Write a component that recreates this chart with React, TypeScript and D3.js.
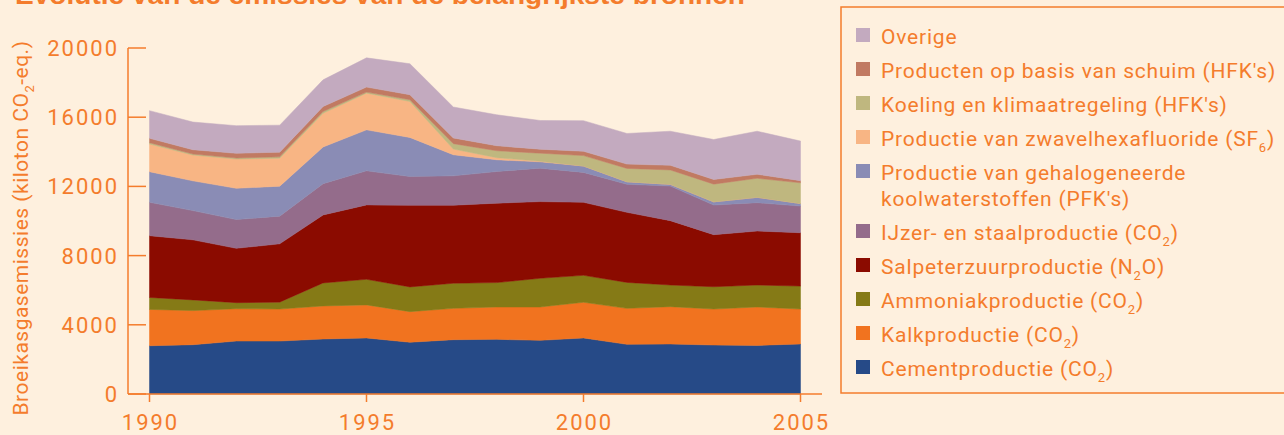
import React from "react";
import * as d3 from "d3";

const years = [1990, 1991, 1992, 1993, 1994, 1995, 1996, 1997, 1998, 1999, 2000, 2001, 2002, 2003, 2004, 2005];
const cement = [2790, 2850, 3060, 3060, 3180, 3240, 2990, 3140, 3160, 3100, 3240, 2870, 2890, 2830, 2810, 2890];
const kalk = [2100, 1970, 1870, 1850, 1910, 1910, 1770, 1810, 1870, 1930, 2060, 2080, 2160, 2080, 2220, 2020];
const ammoniak = [690, 620, 350, 400, 1330, 1480, 1430, 1450, 1410, 1660, 1560, 1500, 1250, 1290, 1270, 1330];
const salpeter = [3570, 3470, 3140, 3370, 3930, 4300, 4720, 4510, 4590, 4430, 4220, 4050, 3720, 3010, 3120, 3080];
const ijzer = [1930, 1690, 1660, 1600, 1810, 1970, 1660, 1700, 1830, 1930, 1730, 1620, 2000, 1710, 1640, 1540];
const pfk = [1770, 1720, 1810, 1730, 2120, 2370, 2260, 1220, 680, 370, 370, 150, 100, 190, 310, 150];
const sf6 = [1600, 1490, 1690, 1620, 1950, 2120, 2080, 330, 120, 40, 0, 0, 0, 0, 0, 0];
const koeling = [80, 60, 60, 80, 100, 60, 100, 310, 400, 460, 600, 770, 830, 1020, 1100, 1200];
const schuim = [250, 250, 270, 270, 290, 290, 290, 330, 290, 230, 250, 250, 270, 270, 230, 120];
const overige = [1600, 1600, 1600, 1560, 1540, 1690, 1790, 1790, 1790, 1660, 1770, 1770, 1970, 2310, 2490, 2290];

const yTicks = [0, 4000, 8000, 12000, 16000, 20000];
const xTicks = [1990, 1995, 2000, 2005];

const title = "Evolutie van de emissies van de belangrijkste bronnen";

// bottom to top
const seriesKeys = ["cement", "kalk", "ammoniak", "salpeter", "ijzer", "pfk", "sf6", "koeling", "schuim", "overige"];
const seriesValues: Record<string, number[]> = { cement, kalk, ammoniak, salpeter, ijzer, pfk, sf6, koeling, schuim, overige };
const seriesColors: Record<string, string> = {
  cement: "#264a87",
  kalk: "#f1731f",
  ammoniak: "#857a16",
  salpeter: "#8b0b00",
  ijzer: "#946c8b",
  pfk: "#8a8cb5",
  sf6: "#f8b584",
  koeling: "#bfb77f",
  schuim: "#c17a62",
  overige: "#c3aabf",
};

type Part = [string, boolean];
const legendItems: { key: string; lines: Part[][] }[] = [
  { key: "overige", lines: [[["Overige", false]]] },
  { key: "schuim", lines: [[["Producten op basis van schuim (HFK's)", false]]] },
  { key: "koeling", lines: [[["Koeling en klimaatregeling (HFK's)", false]]] },
  { key: "sf6", lines: [[["Productie van zwavelhexafluoride (SF", false], ["6", true], [")", false]]] },
  { key: "pfk", lines: [[["Productie van gehalogeneerde", false]], [["koolwaterstoffen (PFK's)", false]]] },
  { key: "ijzer", lines: [[["IJzer- en staalproductie (CO", false], ["2", true], [")", false]]] },
  { key: "salpeter", lines: [[["Salpeterzuurproductie (N", false], ["2", true], ["O)", false]]] },
  { key: "ammoniak", lines: [[["Ammoniakproductie (CO", false], ["2", true], [")", false]]] },
  { key: "kalk", lines: [[["Kalkproductie (CO", false], ["2", true], [")", false]]] },
  { key: "cement", lines: [[["Cementproductie (CO", false], ["2", true], [")", false]]] },
];

const ORANGE = "#f47c2c";
const BG = "#fef0de";
const FONT = "Roboto, 'Noto Sans', sans-serif";

function renderParts(parts: Part[], size: number) {
  const out: React.ReactNode[] = [];
  parts.forEach(([t, sub], i) => {
    if (sub) {
      out.push(
        <tspan key={i} fontSize={size * 0.62} dy={size * 0.28}>{t}</tspan>
      );
    } else {
      const prevSub = i > 0 && parts[i - 1][1];
      out.push(
        <tspan key={i} dy={prevSub ? -size * 0.28 : 0}>{t}</tspan>
      );
    }
  });
  return out;
}

export default function App() {
  const W = 1284, H = 435;
  const x = d3.scaleLinear().domain([1990, 2005]).range([149.5, 800.5]);
  const y = d3.scaleLinear().domain([0, 20000]).range([394, 48]);

  const table = years.map((yr, i) => {
    const row: Record<string, number> = { year: yr };
    seriesKeys.forEach((k) => (row[k] = seriesValues[k][i]));
    return row;
  });
  const stacked = d3.stack<Record<string, number>>().keys(seriesKeys)(table);
  const area = d3
    .area<d3.SeriesPoint<Record<string, number>>>()
    .x((d) => x(d.data.year))
    .y0((d) => y(d[0]))
    .y1((d) => y(d[1]));

  const legendFont = 21;
  const legendX = 881;
  const swX = 856;
  let baseline = 44;
  const legendRows: React.ReactNode[] = [];
  legendItems.forEach((it) => {
    const b = baseline;
    legendRows.push(
      <g key={it.key}>
        <rect x={swX} y={b - 16} width={14} height={14} fill={seriesColors[it.key]} />
        {it.lines.map((ln, j) => (
          <text key={j} x={legendX} y={b + j * 26} fontSize={legendFont} fill={ORANGE} fontFamily={FONT} letterSpacing={0.8}>
            {renderParts(ln, legendFont)}
          </text>
        ))}
      </g>
    );
    baseline += 34 + (it.lines.length - 1) * 26;
  });

  return (
    <svg width={W} height={H} style={{ position: "absolute", left: 0, top: 0, background: BG }}>
      <rect x={0} y={0} width={W} height={H} fill={BG} />
      <text x={15} y={4} fontSize={26} fontWeight="bold" fill={ORANGE} fontFamily="'Liberation Sans', Arial, sans-serif" textLength={730} lengthAdjust="spacingAndGlyphs">
        {title}
      </text>

      {stacked.map((s) => (
        <path key={s.key} d={area(s) || ""} fill={seriesColors[s.key]} stroke={seriesColors[s.key]} strokeWidth={0.5} />
      ))}

      {/* y axis */}
      <line x1={128} x2={128} y1={y(20000)} y2={y(0)} stroke={ORANGE} strokeWidth={1.5} />
      {yTicks.map((t) => (
        <g key={t}>
          <line x1={128} x2={146} y1={y(t)} y2={y(t)} stroke={ORANGE} strokeWidth={1.5} />
          <text x={119} y={y(t) + 8} textAnchor="end" fontSize={22} fill={ORANGE} fontFamily={FONT} letterSpacing={2}>
            {t}
          </text>
        </g>
      ))}

      {/* x axis */}
      <line x1={128} x2={822} y1={y(0)} y2={y(0)} stroke={ORANGE} strokeWidth={1.5} />
      {xTicks.map((t) => (
        <g key={t}>
          <line x1={x(t)} x2={x(t)} y1={y(0)} y2={y(0) + 8} stroke={ORANGE} strokeWidth={1.5} />
          <text x={x(t) + 1} y={430} textAnchor="middle" fontSize={22} fill={ORANGE} fontFamily={FONT} letterSpacing={2}>
            {t}
          </text>
        </g>
      ))}

      {/* y label */}
      <text transform="translate(28,228) rotate(-90)" textAnchor="middle" fontSize={21} fill={ORANGE} fontFamily={FONT} letterSpacing={0.5}>
        <tspan>Broeikasgasemissies (kiloton CO</tspan>
        <tspan fontSize={13} dy={6}>2</tspan>
        <tspan dy={-6}>-eq.)</tspan>
      </text>

      {/* legend */}
      <rect x={841} y={7} width={480} height={386} fill="none" stroke={ORANGE} strokeWidth={1.5} />
      {legendRows}
    </svg>
  );
}
